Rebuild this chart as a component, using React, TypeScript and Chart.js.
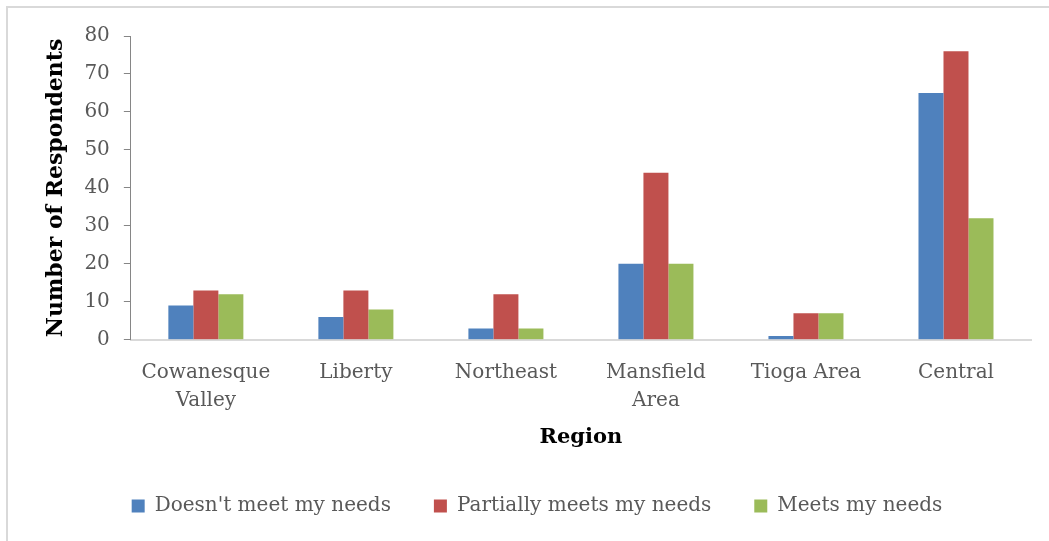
import React, { useEffect, useRef } from "react";
import { Chart, registerables } from "chart.js";

Chart.register(...registerables);

const categories: (string | string[])[] = [
  ["Cowanesque", "Valley"],
  "Liberty",
  "Northeast",
  ["Mansfield", "Area"],
  "Tioga Area",
  "Central",
];
const doesntMeet = [9, 6, 3, 20, 1, 65];
const partiallyMeets = [13, 13, 12, 44, 7, 76];
const meets = [12, 8, 3, 20, 7, 32];
const seriesNames = ["Doesn't meet my needs", "Partially meets my needs", "Meets my needs"];
const yTicks = [0, 10, 20, 30, 40, 50, 60, 70, 80];

const FONT = "'DejaVu Serif', serif";
const TEXT = "#595959";

export default function App() {
  const ref = useRef<HTMLCanvasElement | null>(null);
  useEffect(() => {
    if (!ref.current) return;
    const chart = new Chart(ref.current, {
      type: "bar",
      data: {
        labels: categories,
        datasets: [
          { label: seriesNames[0], data: doesntMeet, backgroundColor: "#4f81bd" },
          { label: seriesNames[1], data: partiallyMeets, backgroundColor: "#c0504d" },
          { label: seriesNames[2], data: meets, backgroundColor: "#9bbb59" },
        ],
      },
      options: {
        animation: false,
        responsive: false,
        layout: { padding: { left: 35, right: 18, top: 28, bottom: 15 } },
        datasets: { bar: { categoryPercentage: 0.5, barPercentage: 1.0 } },
        plugins: {
          tooltip: { enabled: false },
          legend: {
            position: "bottom",
            labels: {
              boxWidth: 13,
              boxHeight: 13,
              padding: 43,
              color: TEXT,
              font: { family: FONT, size: 20 },
            },
          },
        },
        scales: {
          x: {
            grid: { display: false, drawTicks: false },
            border: { color: "#d9d9d9", width: 2 },
            ticks: {
              color: TEXT,
              font: { family: FONT, size: 20, lineHeight: 1.4 },
              padding: 19,
              maxRotation: 0,
              autoSkip: false,
            },
            title: {
              display: true,
              text: "Region",
              color: "#000",
              font: { family: FONT, size: 21, weight: "bold" },
              padding: { top: -9, bottom: 3 },
            },
          },
          y: {
            min: 0,
            max: 80,
            afterBuildTicks: (axis: any) => {
              axis.ticks = yTicks.map((v) => ({ value: v }));
            },
            grid: { display: true, drawOnChartArea: false, drawTicks: true, tickLength: 7, color: "#868686" },
            border: { color: "#868686", width: 1 },
            ticks: {
              color: TEXT,
              font: { family: FONT, size: 20 },
              padding: 14,
            },
            title: {
              display: true,
              text: "Number of Respondents",
              color: "#000",
              font: { family: FONT, size: 22, weight: "bold" },
              padding: { top: 0, bottom: 1 },
            },
          },
        },
      },
    });
    return () => chart.destroy();
  }, []);
  return (
    <div
      style={{
        position: "fixed",
        left: 6,
        top: 6,
        width: 1060,
        height: 560,
        borderTop: "2px solid #d9d9d9",
        borderLeft: "2px solid #d9d9d9",
        background: "#fff",
      }}
    >
      <canvas ref={ref} width={1041} height={533} style={{ display: "block" }} />
    </div>
  );
}
